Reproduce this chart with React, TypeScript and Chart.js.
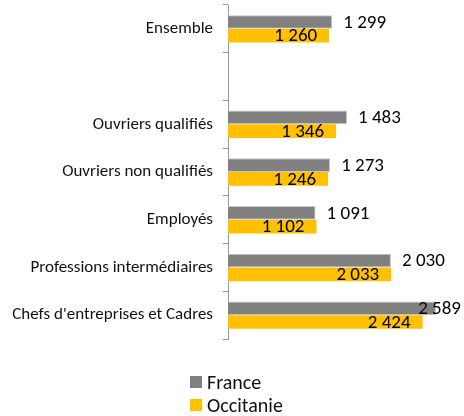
import React, { useEffect, useRef } from "react";
import { Chart, registerables } from "chart.js";

Chart.register(...registerables);

const categories = [
  "Ensemble",
  "",
  "Ouvriers qualifiés",
  "Ouvriers non qualifiés",
  "Employés",
  "Professions intermédiaires",
  "Chefs d'entreprises et Cadres",
];
const franceValues: (number | null)[] = [1299, null, 1483, 1273, 1091, 2030, 2589];
const occitanieValues: (number | null)[] = [1260, null, 1346, 1246, 1102, 2033, 2424];
const seriesNames = ["France", "Occitanie"];
const seriesColors = ["#808080", "#FFC000"];

const FONT = "Carlito, Calibri, 'Open Sans', 'Liberation Sans', sans-serif";

function fmt(v: number): string {
  const s = String(Math.round(v));
  return s.replace(/\B(?=(\d{3})+(?!\d))/g, " ");
}

const labelPlugin = {
  id: "barLabels",
  afterDatasetsDraw(chart: any) {
    const ctx = chart.ctx;
    ctx.save();
    ctx.font = `19px ${FONT}`;
    ctx.fillStyle = "#000";
    ctx.textBaseline = "middle";
    chart.data.datasets.forEach((ds: any, di: number) => {
      const meta = chart.getDatasetMeta(di);
      meta.data.forEach((el: any, i: number) => {
        const v = ds.data[i];
        if (v == null) return;
        const t = fmt(v);
        const w = ctx.measureText(t).width;
        if (di === 0) {
          let x = el.x + 11;
          if (x + w > chart.width - 3) x = chart.width - 3 - w;
          ctx.textAlign = "left";
          ctx.fillText(t, x, el.y + 1);
        } else {
          ctx.textAlign = "right";
          ctx.fillText(t, el.x - 12, el.y + 1);
        }
      });
    });
    ctx.restore();
  },
};

export default function App() {
  const ref = useRef<HTMLCanvasElement | null>(null);
  useEffect(() => {
    if (!ref.current) return;
    const chart = new Chart(ref.current, {
      type: "bar",
      data: {
        labels: categories,
        datasets: [
          {
            label: seriesNames[0],
            data: franceValues,
            backgroundColor: seriesColors[0],
            borderColor: "#c8c8c8",
            borderWidth: 1,
            categoryPercentage: 0.575,
            barPercentage: 1,
          },
          {
            label: seriesNames[1],
            data: occitanieValues,
            backgroundColor: seriesColors[1],
            borderWidth: 0,
            categoryPercentage: 0.575,
            barPercentage: 1,
          },
        ],
      },
      options: {
        indexAxis: "y",
        responsive: false,
        animation: false,
        layout: { padding: { top: 5, bottom: 77, left: 0, right: 0 } },
        plugins: {
          legend: { display: false },
          tooltip: { enabled: false },
        },
        scales: {
          x: {
            display: false,
            min: 0,
            max: 2940,
          },
          y: {
            afterFit: (axis: any) => {
              axis.width = 228;
              axis.paddingTop = 0;
              axis.paddingBottom = 0;
            },
            grid: {
              drawOnChartArea: false,
              drawTicks: true,
              tickLength: 5,
              color: "#999",
              offset: true,
            },
            border: { color: "#999", width: 1 },
            ticks: {
              padding: 10,
              color: "#111",
              font: { family: FONT, size: 17 },
              autoSkip: false,
            },
          },
        },
      },
      plugins: [labelPlugin],
    });
    return () => chart.destroy();
  }, []);

  const legendItem = (name: string, color: string, top: number) => (
    <div
      style={{
        position: "absolute",
        left: 190,
        top,
        display: "flex",
        alignItems: "center",
        fontFamily: FONT,
        fontSize: 20,
        color: "#111",
        lineHeight: "22px",
      }}
    >
      <span style={{ display: "inline-block", width: 12, height: 12, background: color, marginRight: 5 }} />
      <span>{name}</span>
    </div>
  );

  return (
    <div style={{ position: "fixed", left: 0, top: 0, width: 464, height: 416, background: "#fff" }}>
      <canvas ref={ref} width={464} height={416} style={{ position: "absolute", left: 0, top: 0 }} />
      {legendItem(seriesNames[0], seriesColors[0], 371)}
      {legendItem(seriesNames[1], seriesColors[1], 394)}
    </div>
  );
}
